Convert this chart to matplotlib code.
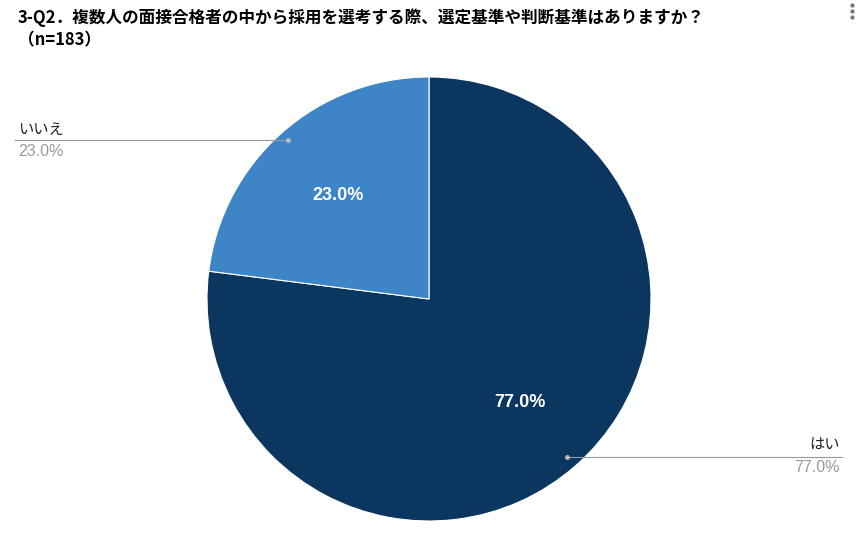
import matplotlib.pyplot as plt

plt.rcParams['font.family'] = ['Liberation Sans', 'Noto Sans CJK JP']

labels = ['はい', 'いいえ']
values = [77.0, 23.0]
colors = ['#0b3660', '#3d85c6']

W, H = 856, 537
fig = plt.figure(figsize=(W / 100, H / 100), dpi=100)


def fx(x):
    return x / W


def fy(y):
    return 1 - y / H


ax = fig.add_axes([fx(429 - 222), fy(299 + 222), 444 / W, 444 / H])
wedges, texts, autotexts = ax.pie(values, colors=colors, startangle=90, counterclock=False,
                                  autopct='%1.1f%%', pctdistance=0.62, radius=1,
                                  wedgeprops=dict(edgecolor='white', linewidth=0.8),
                                  textprops=dict(color='white', fontsize=13, fontweight='bold'))
ax.set_xlim(-1, 1)
ax.set_ylim(-1, 1)
ax.set_aspect('equal')

fig.text(fx(18), fy(8), '3-Q2．複数人の面接合格者の中から採用を選考する際、選定基準や判断基準はありますか？\n（n=183）',
         fontsize=12, fontweight='bold', va='top', ha='left', linespacing=1.3,
         family=['Noto Sans CJK JP', 'DejaVu Sans'])

# leader lines and outside labels
fig.add_artist(plt.Line2D([fx(15), fx(288)], [fy(140), fy(140)], color='#999999', lw=0.8))
fig.add_artist(plt.Line2D([fx(288)], [fy(140)], marker='o', ms=2.5, color='#bbbbbb'))
fig.text(fx(18), fy(129), labels[1], fontsize=11, color='#222222', va='center',
         family=['Noto Sans CJK JP'])
fig.text(fx(18), fy(151), f'{values[1]:.1f}%', fontsize=11.5, color='#999999', va='center')

fig.add_artist(plt.Line2D([fx(567), fx(842)], [fy(457), fy(457)], color='#999999', lw=0.8))
fig.add_artist(plt.Line2D([fx(567)], [fy(457)], marker='o', ms=2.5, color='#bbbbbb'))
fig.text(fx(840), fy(445), labels[0], fontsize=11, color='#222222', va='center', ha='right',
         family=['Noto Sans CJK JP'])
fig.text(fx(840), fy(467), f'{values[0]:.1f}%', fontsize=11.5, color='#999999', va='center', ha='right')

for yy in (5, 11, 17):
    fig.add_artist(plt.Line2D([fx(852)], [fy(yy)], marker='o', ms=2, color='#777777'))

fig.savefig('out.png', dpi=100)
